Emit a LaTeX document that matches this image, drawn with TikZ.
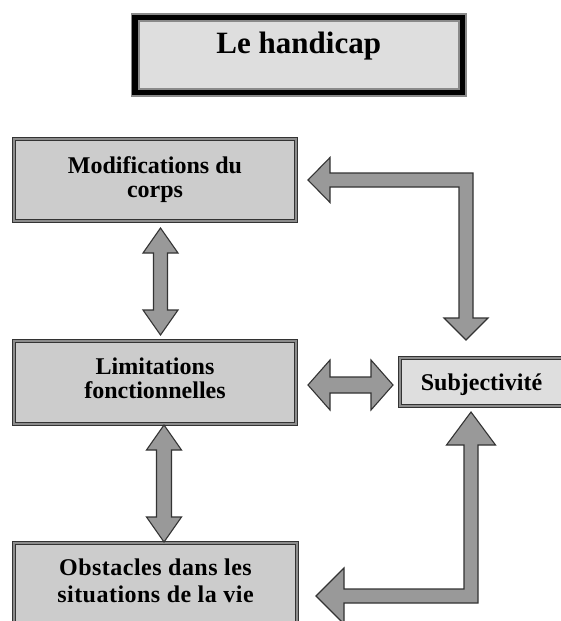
\documentclass[tikz,border=0pt]{standalone}
\usepackage{fontspec}
\setmainfont{Liberation Serif}
\usetikzlibrary{calc}
\definecolor{boxfill}{HTML}{CCCCCC}
\definecolor{lightfill}{HTML}{DEDEDE}
\definecolor{arrowfill}{HTML}{999999}
\definecolor{edgedark}{HTML}{333333}
\definecolor{edgemid}{HTML}{8C8C8C}
\definecolor{titleedge}{HTML}{8A8A8A}
\tikzset{
  framebox/.style={draw=edgedark, double=edgemid, line width=1.3pt, double distance=1.6pt,
    fill=boxfill, inner sep=0pt, outer sep=0pt, align=center,
    font=\fontsize{24}{24}\selectfont\bfseries},
  titlebox/.style={draw=titleedge, double=black, line width=1.8pt, double distance=5.5pt,
    fill=lightfill, inner sep=0pt, outer sep=0pt, align=center,
    font=\fontsize{31}{31}\selectfont\bfseries},
  fatarrow/.style={draw=edgedark, fill=arrowfill, line width=1.1pt, line join=miter}
}
% vertical double-headed block arrow: top tip, bottom tip, head half width, shaft half width, head length
\newcommand{\fatDoubleV}[5]{%
  \path[fatarrow] let \p1=(#1), \p2=(#2) in
  (\x1,\y1) -- (\x1+#3,\y1-#5) -- (\x1+#4,\y1-#5) -- (\x1+#4,\y2+#5) -- (\x1+#3,\y2+#5)
  -- (\x1,\y2) -- (\x1-#3,\y2+#5) -- (\x1-#4,\y2+#5) -- (\x1-#4,\y1-#5) -- (\x1-#3,\y1-#5) -- cycle;}
% horizontal double-headed block arrow: left tip, right tip, head half width, shaft half width, head length
\newcommand{\fatDoubleH}[5]{%
  \path[fatarrow] let \p1=(#1), \p2=(#2) in
  (\x1,\y1) -- (\x1+#5,\y1+#3) -- (\x1+#5,\y1+#4) -- (\x2-#5,\y1+#4) -- (\x2-#5,\y1+#3)
  -- (\x2,\y1) -- (\x2-#5,\y1-#3) -- (\x2-#5,\y1-#4) -- (\x1+#5,\y1-#4) -- (\x1+#5,\y1-#3) -- cycle;}
% elbow arrow, left tip then vertical tip pointing down
\newcommand{\fatElbowDown}[7]{%
  \path[fatarrow] let \p1=(#1), \p2=(#2) in
  (\x1,\y1) -- (\x1+#4,\y1+#3) -- (\x1+#4,\y1+#7) -- (\x2+#7,\y1+#7) -- (\x2+#7,\y2+#6)
  -- (\x2+#5,\y2+#6) -- (\x2,\y2) -- (\x2-#5,\y2+#6) -- (\x2-#7,\y2+#6) -- (\x2-#7,\y1-#7)
  -- (\x1+#4,\y1-#7) -- (\x1+#4,\y1-#3) -- cycle;}
% elbow arrow, left tip then vertical tip pointing up
\newcommand{\fatElbowUp}[7]{%
  \path[fatarrow] let \p1=(#1), \p2=(#2) in
  (\x1,\y1) -- (\x1+#4,\y1+#3) -- (\x1+#4,\y1+#7) -- (\x2-#7,\y1+#7) -- (\x2-#7,\y2-#6)
  -- (\x2-#5,\y2-#6) -- (\x2,\y2) -- (\x2+#5,\y2-#6) -- (\x2+#7,\y2-#6) -- (\x2+#7,\y1-#7)
  -- (\x1+#4,\y1-#7) -- (\x1+#4,\y1-#3) -- cycle;}
\begin{document}
\begin{tikzpicture}[x=1pt,y=-1pt]
\fill[white] (0,0) rectangle (560,621);
\useasboundingbox (0,0) rectangle (560,621);

\node[titlebox, minimum width=327.4pt, minimum height=74.9pt, text depth=25pt]
  (title) at (298.75,55) {Le handicap};

\node[framebox, minimum width=281.8pt, minimum height=81.8pt]
  (mod) at (155,180) {Modifications du\\corps};
\node[framebox, minimum width=281.8pt, minimum height=82.8pt, text depth=8pt]
  (lim) at (155,382.5) {Limitations\\fonctionnelles};
\node[framebox, minimum width=282.8pt, minimum height=82.8pt, text depth=8.5pt,
      font=\fontsize{24}{27}\selectfont\bfseries\addfontfeature{LetterSpace=2}]
  (obs) at (155.5,584.5) {Obstacles dans les\\situations de la vie};
\node[framebox, fill=lightfill, minimum width=162.8pt, minimum height=47.8pt, text depth=0.5pt]
  (subj) at (481.5,382) {Subjectivité};

% connector end points
\coordinate (a1t) at ([xshift=5.5pt,yshift=-7.1pt]mod.south);
\coordinate (a1b) at ([xshift=5.5pt,yshift=6.1pt]lim.north);
\coordinate (a2t) at ([xshift=9pt,yshift=-1.1pt]lim.south);
\coordinate (a2b) at ([xshift=9pt,yshift=1.1pt]obs.north);
\coordinate (hl) at ([xshift=12.1pt,yshift=-2.5pt]lim.east);
\coordinate (hr) at ([xshift=-7.1pt,yshift=-3pt]subj.west);
\coordinate (e1l) at ([xshift=12.1pt]mod.east);
\coordinate (e1b) at ([xshift=-15.5pt,yshift=18.1pt]subj.north);
\coordinate (e2l) at ([xshift=19.1pt,yshift=-11.5pt]obs.east);
\coordinate (e2t) at ([xshift=-10.5pt,yshift=-6.1pt]subj.south);

\fatDoubleV{a1t}{a1b}{17.5pt}{7pt}{25pt}
\fatDoubleV{a2t}{a2b}{17.5pt}{7.5pt}{25pt}
\fatDoubleH{hl}{hr}{25pt}{8pt}{22pt}
\fatElbowDown{e1l}{e1b}{22.5pt}{22pt}{22pt}{22pt}{7pt}
\fatElbowUp{e2l}{e2t}{28pt}{28pt}{24.5pt}{33pt}{7pt}
\end{tikzpicture}
\end{document}
